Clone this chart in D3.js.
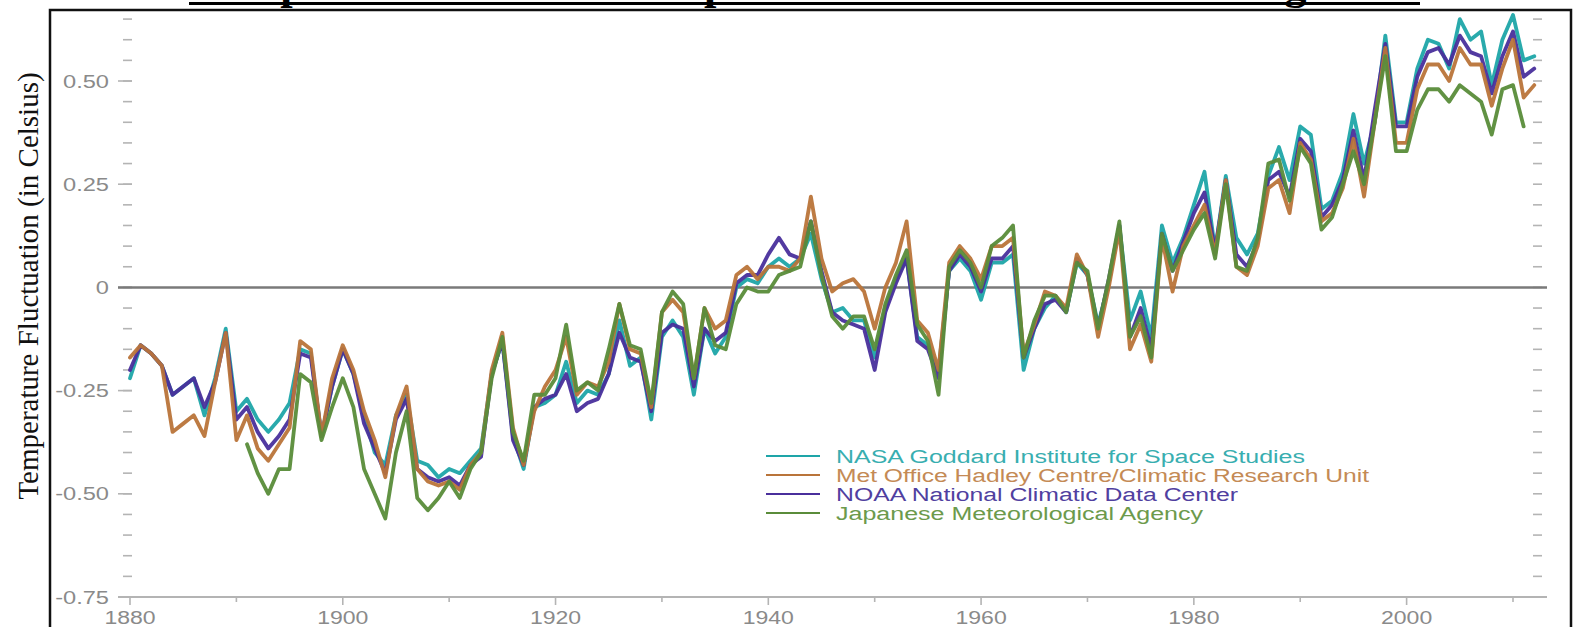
<!DOCTYPE html>
<html>
<head>
<meta charset="utf-8">
<script src="https://cdn.jsdelivr.net/npm/d3@7"></script>
<style>
  html, body { margin: 0; padding: 0; background: #fff; overflow: hidden; }
  svg { display: block; }
</style>
</head>
<body>
<svg id="chart" width="1577" height="627"></svg>
<script>
// Annual global temperature anomalies (°C) from four agencies, 1880–2012
const years = d3.range(1880, 2013);

const nasa = [
  -0.22,-0.14,-0.16,-0.19,-0.26,-0.24,-0.22,-0.31,-0.22,-0.10,
  -0.30,-0.27,-0.32,-0.35,-0.32,-0.28,-0.15,-0.16,-0.36,-0.24,
  -0.15,-0.21,-0.31,-0.40,-0.43,-0.31,-0.26,-0.42,-0.43,-0.46,
  -0.44,-0.45,-0.42,-0.39,-0.21,-0.13,-0.36,-0.44,-0.29,-0.28,
  -0.26,-0.18,-0.28,-0.25,-0.26,-0.21,-0.08,-0.19,-0.17,-0.32,
  -0.12,-0.08,-0.12,-0.26,-0.10,-0.16,-0.12, 0.00, 0.02, 0.01,
   0.05, 0.07, 0.05, 0.07, 0.13, 0.02,-0.06,-0.05,-0.08,-0.08,
  -0.17,-0.05, 0.02, 0.07,-0.12,-0.14,-0.20, 0.04, 0.07, 0.04,
  -0.03, 0.06, 0.06, 0.08,-0.20,-0.10,-0.05,-0.02,-0.06, 0.06,
   0.03,-0.09, 0.01, 0.15,-0.08,-0.01,-0.12, 0.15, 0.06, 0.12,
   0.20, 0.28, 0.09, 0.27, 0.12, 0.08, 0.13, 0.27, 0.34, 0.26,
   0.39, 0.37, 0.19, 0.21, 0.28, 0.42, 0.30, 0.40, 0.61, 0.40,
   0.40, 0.53, 0.60, 0.59, 0.53, 0.65, 0.60, 0.62, 0.49, 0.60,
   0.66, 0.55, 0.56
];

const hadcru = [
  -0.17,-0.14,-0.16,-0.19,-0.35,-0.33,-0.31,-0.36,-0.23,-0.11,
  -0.37,-0.31,-0.39,-0.42,-0.38,-0.34,-0.13,-0.15,-0.36,-0.22,
  -0.14,-0.20,-0.30,-0.37,-0.46,-0.31,-0.24,-0.44,-0.47,-0.48,
  -0.47,-0.49,-0.43,-0.40,-0.20,-0.11,-0.34,-0.43,-0.30,-0.24,
  -0.20,-0.12,-0.26,-0.23,-0.24,-0.18,-0.04,-0.15,-0.16,-0.29,
  -0.06,-0.03,-0.06,-0.22,-0.05,-0.10,-0.08, 0.03, 0.05, 0.02,
   0.05, 0.05, 0.04, 0.07, 0.22, 0.07,-0.01, 0.01, 0.02,-0.01,
  -0.10, 0.00, 0.06, 0.16,-0.08,-0.11,-0.20, 0.06, 0.10, 0.07,
   0.02, 0.10, 0.10, 0.12,-0.16,-0.09,-0.01,-0.02,-0.05, 0.08,
   0.03,-0.12, 0.00, 0.14,-0.15,-0.09,-0.18, 0.12,-0.01, 0.10,
   0.15, 0.20, 0.08, 0.26, 0.05, 0.03, 0.10, 0.24, 0.26, 0.18,
   0.35, 0.31, 0.16, 0.18, 0.24, 0.36, 0.22, 0.40, 0.58, 0.35,
   0.35, 0.48, 0.54, 0.54, 0.50, 0.58, 0.54, 0.54, 0.44, 0.53,
   0.60, 0.46, 0.49
];

const noaa = [
  -0.20,-0.14,-0.16,-0.19,-0.26,-0.24,-0.22,-0.29,-0.23,-0.11,
  -0.32,-0.29,-0.35,-0.39,-0.36,-0.32,-0.16,-0.17,-0.36,-0.24,
  -0.15,-0.21,-0.33,-0.39,-0.45,-0.32,-0.27,-0.44,-0.46,-0.47,
  -0.46,-0.48,-0.43,-0.41,-0.21,-0.13,-0.37,-0.43,-0.29,-0.27,
  -0.26,-0.21,-0.30,-0.28,-0.27,-0.21,-0.11,-0.17,-0.18,-0.30,
  -0.11,-0.09,-0.10,-0.24,-0.10,-0.13,-0.11, 0.01, 0.03, 0.03,
   0.08, 0.12, 0.08, 0.07, 0.16, 0.04,-0.06,-0.08,-0.09,-0.10,
  -0.20,-0.06, 0.01, 0.07,-0.13,-0.15,-0.22, 0.04, 0.08, 0.05,
  -0.01, 0.07, 0.07, 0.10,-0.17,-0.10,-0.04,-0.03,-0.06, 0.07,
   0.03,-0.10, 0.02, 0.15,-0.12,-0.05,-0.15, 0.13, 0.04, 0.11,
   0.18, 0.23, 0.09, 0.26, 0.08, 0.05, 0.11, 0.26, 0.28, 0.22,
   0.36, 0.33, 0.17, 0.20, 0.26, 0.38, 0.26, 0.43, 0.59, 0.39,
   0.39, 0.51, 0.57, 0.58, 0.54, 0.61, 0.57, 0.56, 0.47, 0.56,
   0.62, 0.51, 0.53
];

// JMA series begins in 1891
const jmaStart = 1891;
const jma = [
                                                          -0.38,
  -0.45,-0.50,-0.44,-0.44,-0.21,-0.23,-0.37,-0.29,
  -0.22,-0.29,-0.44,-0.50,-0.56,-0.40,-0.30,-0.51,-0.54,-0.51,
  -0.47,-0.51,-0.44,-0.40,-0.22,-0.12,-0.35,-0.42,-0.26,-0.26,
  -0.22,-0.09,-0.25,-0.23,-0.25,-0.15,-0.04,-0.14,-0.15,-0.28,
  -0.06,-0.01,-0.04,-0.22,-0.05,-0.14,-0.15,-0.04, 0.00,-0.01,
  -0.01, 0.03, 0.04, 0.05, 0.16, 0.03,-0.07,-0.10,-0.07,-0.07,
  -0.15,-0.04, 0.03, 0.09,-0.09,-0.13,-0.26, 0.05, 0.09, 0.06,
   0.00, 0.10, 0.12, 0.15,-0.17,-0.08,-0.02,-0.02,-0.06, 0.06,
   0.04,-0.10, 0.02, 0.16,-0.12,-0.07,-0.17, 0.13, 0.04, 0.09,
   0.14, 0.18, 0.07, 0.25, 0.05, 0.04, 0.12, 0.30, 0.31, 0.21,
   0.34, 0.30, 0.14, 0.17, 0.25, 0.33, 0.25, 0.40, 0.56, 0.33,
   0.33, 0.43, 0.48, 0.48, 0.45, 0.49, 0.47, 0.45, 0.37, 0.48,
   0.49, 0.39
];

const seriesNames = [
  "NASA Goddard Institute for Space Studies",
  "Met Office Hadley Centre/Climatic Research Unit",
  "NOAA National Climatic Data Center",
  "Japanese Meteorological Agency"
];
const lineColors = ["#1ea5a8", "#b9743a", "#4a2f9c", "#5a8c3a"];
const textColors = ["#38aeb0", "#c48a55", "#5040a0", "#6c9a4c"];

const yMajorTicks = [-0.75, -0.5, -0.25, 0, 0.25, 0.5];
const yTickLabels = ["-0.75", "-0.50", "-0.25", "0", "0.25", "0.50"];
const yMinorTicks = d3.range(-70, 70, 5).map(v => v / 100);
const xMajorTicks = [1880, 1900, 1920, 1940, 1960, 1980, 2000];
const xMinorTicks = [1890, 1910, 1930, 1950, 1970, 1990, 2010];

const titleText = "Comparison of Global Temperature Records from Four Agencies";
const yAxisTitle = "Temperature Fluctuation (in Celsius)";

// ---- drawing ----
const svg = d3.select("#chart");

const x = d3.scaleLinear().domain([1880, 2010]).range([130, 1513]);
const y = d3.scaleLinear().domain([-0.75, 0.5]).range([597, 81]);

// Soft edge for the data strokes
const defs = svg.append("defs");
defs.append("filter").attr("id", "soft")
  .append("feGaussianBlur").attr("stdDeviation", 0.45);

// Frame
svg.append("rect")
  .attr("x", 50).attr("y", 10)
  .attr("width", 1521).attr("height", 660)
  .attr("fill", "none").attr("stroke", "#111").attr("stroke-width", 2.5);

// Title (sits mostly above the frame, underlined)
svg.append("text")
  .attr("x", 189).attr("y", -1)
  .attr("textLength", 1231).attr("lengthAdjust", "spacingAndGlyphs")
  .attr("font-family", "Liberation Serif, Times New Roman, serif")
  .attr("font-weight", "bold").attr("font-size", 40)
  .attr("fill", "#000")
  .text(titleText);
svg.append("line")
  .attr("x1", 189).attr("x2", 1420).attr("y1", 3.5).attr("y2", 3.5)
  .attr("stroke", "#000").attr("stroke-width", 3);

// Y axis title
svg.append("text")
  .attr("transform", `translate(38, ${286}) rotate(-90)`)
  .attr("text-anchor", "middle")
  .attr("font-family", "Liberation Serif, Times New Roman, serif")
  .attr("font-size", 29)
  .attr("fill", "#111")
  .text(yAxisTitle);

// Y ticks left and right
const tickColor = "#b4b4b4";
const gy = svg.append("g");
gy.selectAll("line.minorL").data(yMinorTicks).join("line")
  .attr("x1", 123).attr("x2", 132)
  .attr("y1", d => y(d)).attr("y2", d => y(d))
  .attr("stroke", tickColor).attr("stroke-width", 1.6);
gy.selectAll("line.majorL").data(yMajorTicks).join("line")
  .attr("x1", 118).attr("x2", 132)
  .attr("y1", d => y(d)).attr("y2", d => y(d))
  .attr("stroke", tickColor).attr("stroke-width", 1.6);
gy.selectAll("line.minorR").data(yMinorTicks).join("line")
  .attr("x1", 1533).attr("x2", 1542)
  .attr("y1", d => y(d)).attr("y2", d => y(d))
  .attr("stroke", tickColor).attr("stroke-width", 1.6);

gy.selectAll("text").data(yMajorTicks).join("text")
  .attr("transform", d => `translate(109, ${y(d) + 6.5}) scale(1.35, 1)`)
  .attr("text-anchor", "end")
  .attr("font-family", "Liberation Sans, Arial, sans-serif")
  .attr("font-size", 17.5)
  .attr("fill", "#8a8a8a")
  .text((d, i) => yTickLabels[i]);

// X axis
const gx = svg.append("g");
gx.append("line")
  .attr("x1", 118).attr("x2", 1547)
  .attr("y1", y(-0.75)).attr("y2", y(-0.75))
  .attr("stroke", tickColor).attr("stroke-width", 1.8);
gx.selectAll("line.major").data(xMajorTicks).join("line")
  .attr("x1", d => x(d)).attr("x2", d => x(d))
  .attr("y1", y(-0.75)).attr("y2", y(-0.75) + 8)
  .attr("stroke", tickColor).attr("stroke-width", 1.6);
gx.selectAll("line.minor").data(xMinorTicks).join("line")
  .attr("x1", d => x(d)).attr("x2", d => x(d))
  .attr("y1", y(-0.75)).attr("y2", y(-0.75) + 5)
  .attr("stroke", tickColor).attr("stroke-width", 1.6);
gx.selectAll("text").data(xMajorTicks).join("text")
  .attr("transform", d => `translate(${x(d)}, 624) scale(1.28, 1)`)
  .attr("text-anchor", "middle")
  .attr("font-family", "Liberation Sans, Arial, sans-serif")
  .attr("font-size", 18)
  .attr("fill", "#8a8a8a")
  .text(d => d);

// Zero line
svg.append("line")
  .attr("x1", 118).attr("x2", 1547)
  .attr("y1", y(0)).attr("y2", y(0))
  .attr("stroke", "#7a7a7a").attr("stroke-width", 2.5);

// Data lines
const line = d3.line()
  .x(d => x(d[0]))
  .y(d => y(d[1]))
  .curve(d3.curveLinear);

const seriesData = [
  years.map((yr, i) => [yr, nasa[i]]),
  years.map((yr, i) => [yr, hadcru[i]]),
  years.map((yr, i) => [yr, noaa[i]]),
  jma.map((v, i) => [jmaStart + i, v])
];

const drawOrder = [0, 2, 1, 3];
svg.append("g").attr("filter", "url(#soft)")
  .selectAll("path").data(drawOrder).join("path")
  .attr("d", k => line(seriesData[k]))
  .attr("fill", "none")
  .attr("stroke", k => lineColors[k])
  .attr("stroke-width", 3.8)
  .attr("stroke-linejoin", "round")
  .attr("stroke-linecap", "round")
  .attr("opacity", 0.95);

// Legend
const legendRows = [456, 475, 494, 513];
const legendWidths = [469, 533, 402, 367];
const lg = svg.append("g");
lg.selectAll("line").data(seriesNames).join("line")
  .attr("x1", 766).attr("x2", 820)
  .attr("y1", (d, i) => legendRows[i]).attr("y2", (d, i) => legendRows[i])
  .attr("stroke", (d, i) => lineColors[i]).attr("stroke-width", 2);
lg.selectAll("text").data(seriesNames).join("text")
  .attr("x", 836).attr("y", (d, i) => legendRows[i] + 6.5)
  .attr("textLength", (d, i) => legendWidths[i])
  .attr("lengthAdjust", "spacingAndGlyphs")
  .attr("font-family", "Liberation Sans, Arial, sans-serif")
  .attr("font-size", 18)
  .attr("fill", (d, i) => textColors[i])
  .text(d => d);
</script>
</body>
</html>
